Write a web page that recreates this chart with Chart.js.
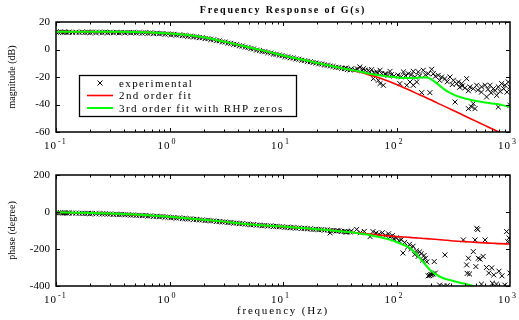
<!DOCTYPE html>
<html>
<head>
<meta charset="utf-8">
<title>Frequency Response of G(s)</title>
<script src="https://cdn.jsdelivr.net/npm/chart.js@4.4.1/dist/chart.umd.min.js"></script>
<style>
  html, body { margin: 0; padding: 0; background: #fff; }
  #wrap { position: relative; width: 519px; height: 320px; }
  .pane { position: absolute; left: 0; width: 519px; height: 160px; }
</style>
</head>
<body>
<div id="wrap">
  <div class="pane" style="top:0"><canvas id="magChart"></canvas></div>
  <div class="pane" style="top:160px"><canvas id="phaseChart"></canvas></div>
</div>
<script>
// ---- data ----------------------------------------------------------------
const seriesLabels = ['experimental', '2nd order fit', '3rd order fit with RHP zeros'];

// decade ticks of the log frequency axis and their exponents
const decadeTicks = [0.1, 1, 10, 100, 1000];
const decadeExp = ['-1', '0', '1', '2', '3'];

// frequency grid (Hz) the two fitted models are sampled on
const fitFreq = [0.1, 0.2, 0.3, 0.5, 0.7, 1, 1.5, 2, 3, 4.18,
                 5, 7, 10, 15, 20, 26, 32, 40, 47, 55,
                 65, 72, 85, 100, 115, 131, 150, 165, 184, 200,
                 230, 260, 300, 350, 400, 500, 600, 700, 805, 1000];

const fit2Mag = [13.0, 13.0, 12.9, 12.7, 12.3, 11.7, 10.4, 8.9, 5.8, 3.1,
                 1.6, -1.2, -4.3, -7.5, -9.8, -11.8, -13.3, -15.0, -16.4, -17.9,
                 -19.7, -20.9, -23.1, -25.4, -27.6, -29.7, -31.9, -33.4, -35.2, -36.6,
                 -39.0, -41.0, -43.4, -46.0, -48.3, -52.1, -55.2, -57.8, -60.2, -64.0];

const fit3Mag = [13.0, 13.0, 12.9, 12.7, 12.3, 11.7, 10.4, 8.9, 5.8, 3.1,
                 1.6, -1.2, -4.3, -7.5, -9.8, -11.8, -13.3, -14.9, -16.0, -17.2,
                 -18.3, -18.9, -19.6, -20.3, -20.7, -20.8, -20.6, -20.4, -20.4, -21.5,
                 -25.0, -28.6, -31.8, -34.2, -35.6, -37.4, -38.5, -39.3, -40.0, -41.8];

const fit2Phase = [-2, -5, -8, -14, -19, -26, -35, -42, -52, -62,
                   -66, -73, -79, -87, -93, -99, -104, -110, -114, -118,
                   -122, -125, -129, -133, -135, -137, -140, -142, -144, -146,
                   -149, -151, -155, -158, -160, -164, -167, -169, -171, -173];

const fit3Phase = [-2, -5, -8, -14, -19, -26, -35, -42, -52, -62,
                   -66, -73, -79, -87, -93, -99, -104, -110, -116, -122,
                   -131, -137, -148, -162, -178, -195, -228, -258, -292, -316,
                   -342, -358, -369, -380, -388, -402, -412, -420, -428, -440];

// measured points [Hz, dB]
const expMag = [
  [0.1, 12.7], [0.11, 12.8], [0.12, 12.6], [0.13, 12.7], [0.15, 12.6], [0.17, 12.7], [0.19, 12.6], [0.21, 12.6],
  [0.24, 12.5], [0.27, 12.6], [0.3, 12.5], [0.34, 12.5], [0.38, 12.4], [0.43, 12.4], [0.48, 12.4], [0.54, 12.3],
  [0.61, 12.2], [0.68, 12.1], [0.77, 11.9], [0.86, 11.6], [0.97, 11.3], [1.09, 11.0], [1.22, 10.6], [1.37, 10.2],
  [1.54, 9.7], [1.73, 9.2], [1.94, 8.6], [2.18, 7.9], [2.45, 7.1], [2.75, 6.3], [3.09, 5.4], [3.47, 4.5],
  [3.89, 3.5], [4.37, 2.5], [4.91, 1.5], [5.5, 0.4], [6.2, -0.7], [6.9, -1.6], [7.8, -2.6], [8.7, -3.5],
  [9.8, -4.5], [11, -5.4], [12.3, -6.3], [13.8, -7.1], [15.5, -8.1], [17.4, -8.9], [19.5, -9.8], [21.9, -10.6],
  [24.6, -11.4], [27.6, -12.3], [31, -13.1], [34.8, -13.9], [39, -14.8],
  [0.105, 12.5], [0.115, 12.5], [0.125, 12.4], [0.14, 12.4], [0.16, 12.4], [0.18, 12.4], [0.2, 12.3], [0.225, 12.3],
  [0.255, 12.3], [0.285, 12.2], [0.32, 12.2], [0.36, 12.1], [0.405, 12.1], [0.455, 12.1], [0.51, 12.0], [0.575, 11.9],
  [0.645, 11.8], [0.725, 11.6], [0.815, 11.4], [0.915, 11.1], [1.03, 10.8], [1.15, 10.5], [1.3, 10.1], [1.45, 9.6],
  [1.63, 9.1], [1.83, 8.6], [2.06, 7.9], [2.31, 7.2], [2.6, 6.4], [2.92, 5.5], [3.28, 4.6], [3.68, 3.7],
  [4.13, 2.7], [4.64, 1.7], [5.2, 0.6], [5.85, -0.4], [6.55, -1.4], [7.35, -2.3], [8.25, -3.3], [9.25, -4.2],
  [10.4, -5.2], [11.6, -6.0], [13, -6.9], [14.6, -7.8], [16.4, -8.7], [18.4, -9.5], [20.7, -10.4], [23.2, -11.2],
  [26.1, -12.0], [29.3, -12.9], [32.9, -13.7], [36.9, -14.6],
  [36, -13.5], [40, -14.2], [43, -14.8], [45, -14.0], [47.6, -12.7], [50, -15.5], [51, -13.9], [53, -15.2],
  [56.5, -15.1], [58, -16.3], [60.4, -14.6], [62.5, -21.2], [63, -17.0], [66.8, -16.3], [68, -17.2], [69.2, -22.4],
  [71.6, -15.1], [71.6, -24.8], [74, -17.5], [76.6, -26.0], [79.2, -17.6], [80, -18.0], [84, -18.9], [87.7, -15.9],
  [90, -18.3], [95, -19.3], [103, -18.6], [107, -24.8], [110, -19.8], [115, -16.3], [120, -19.0], [123, -26.0],
  [127, -17.6], [131.5, -23.6], [135, -18.5], [140.6, -15.9], [140.6, -26.0], [145, -20.0], [150.6, -23.6], [155.6, -16.3],
  [160, -19.2], [166.7, -31.4], [172, -15.1], [180, -18.4], [190.5, -17.6], [197, -31.4], [204, -14.4], [211, -17.6],
  [220, -19.5], [233, -18.8], [240, -22.5], [250, -20.0], [267, -21.2], [280, -23.5], [296, -20.0], [310, -25.5],
  [317, -22.4], [328, -38.2], [339, -24.8], [351, -23.6], [360, -27.5], [375, -24.8], [380, -26.5], [400, -28.0],
  [415, -21.2], [430, -43.0], [430, -30.0], [444, -27.2], [459, -41.8], [475, -28.5], [475, -39.4], [492, -43.0],
  [508, -26.0], [520, -29.5], [560, -31.0], [562, -27.2], [603, -26.0], [622, -34.5], [640, -29.0], [667, -26.0],
  [680, -31.5], [713, -28.5], [740, -29.8], [763, -33.3], [789, -27.2], [789, -41.8], [820, -30.5], [844, -24.8],
  [880, -28.5], [903, -26.0], [940, -31.0], [966, -23.6], [1000, -27.2], [1000, -40.6]
];

// measured points [Hz, degree]
const expPhase = [
  [0.1, -4], [0.11, -4], [0.12, -5], [0.13, -5], [0.15, -6], [0.17, -7], [0.19, -7], [0.21, -8],
  [0.24, -9], [0.27, -10], [0.3, -11], [0.34, -12], [0.38, -13], [0.43, -15], [0.48, -16], [0.54, -18],
  [0.61, -19], [0.68, -21], [0.77, -23], [0.86, -25], [0.97, -28], [1.09, -30], [1.22, -32], [1.37, -35],
  [1.54, -37], [1.73, -40], [1.94, -43], [2.18, -45], [2.45, -48], [2.75, -51], [3.09, -54], [3.47, -57],
  [3.89, -60], [4.37, -63], [4.91, -66], [5.5, -68], [6.2, -71], [6.9, -73], [7.8, -75], [8.7, -77],
  [9.8, -80], [11, -82], [12.3, -84], [13.8, -86], [15.5, -88], [17.4, -91], [19.5, -93], [21.9, -95],
  [24.6, -97], [27.6, -100], [31, -102], [34.8, -105], [39, -108],
  [0.105, -5], [0.115, -5], [0.125, -6], [0.14, -6], [0.16, -7], [0.18, -8], [0.2, -9], [0.225, -9],
  [0.255, -10], [0.285, -11], [0.32, -13], [0.36, -14], [0.405, -15], [0.455, -17], [0.51, -18], [0.575, -20],
  [0.645, -22], [0.725, -24], [0.815, -26], [0.915, -28], [1.03, -31], [1.15, -33], [1.3, -35], [1.45, -38],
  [1.63, -40], [1.83, -43], [2.06, -46], [2.31, -48], [2.6, -51], [2.92, -54], [3.28, -57], [3.68, -60],
  [4.13, -63], [4.64, -66], [5.2, -69], [5.85, -71], [6.55, -74], [7.35, -76], [8.25, -78], [9.25, -80],
  [10.4, -83], [11.6, -85], [13, -87], [14.6, -89], [16.4, -91], [18.4, -94], [20.7, -96], [23.2, -98],
  [26.1, -100], [29.3, -103], [32.9, -105], [36.9, -108],
  [26, -113], [30, -101], [36, -108], [40, -103], [44.6, -94], [48, -112], [52, -105], [58.5, -133],
  [62, -106], [66, -114], [70, -120], [75, -112], [80, -126], [85, -118], [88, -134], [92, -128],
  [95, -145], [100, -140], [105, -155], [110, -150], [114, -222], [118, -165], [125, -190], [130, -175],
  [135, -200], [140, -185], [145, -230], [150, -210], [155, -240], [160, -215], [165, -225], [170, -260],
  [175, -235], [180, -250], [185, -270], [190, -345], [195, -343], [200, -340], [205, -338], [210, -335],
  [215, -268], [220, -330], [240, -395], [260, -400], [267, -232], [280, -398], [388, -151], [415, -286],
  [420, -332], [430, -250], [440, -335], [475, -214], [492, -151], [500, -295], [509, -88], [520, -95],
  [525, -250], [545, -255], [560, -390], [580, -240], [603, -151], [620, -300], [650, -330], [690, -302],
  [700, -385], [720, -340], [760, -390], [800, -320], [850, -345], [900, -395], [933, -106], [955, -160],
  [980, -140], [1000, -330]
];

// ---- helpers ----------------------------------------------------------------
const SERIF = '"Liberation Serif", "DejaVu Serif", serif';

const toXY = (xs, ys) => xs.map((f, i) => ({ x: f, y: ys[i] }));
const pairsToXY = pairs => pairs.map(p => ({ x: p[0], y: p[1] }));

function buildDatasets(expPairs, fit2, fit3) {
  return [
    {
      label: seriesLabels[0],
      data: pairsToXY(expPairs),
      showLine: false,
      pointStyle: 'crossRot',
      pointRadius: 3.5,
      pointBorderWidth: 1,
      borderColor: '#000',
      backgroundColor: '#000',
      order: 3
    },
    {
      label: seriesLabels[1],
      data: toXY(fitFreq, fit2),
      showLine: true,
      borderColor: '#ff0000',
      borderWidth: 1.6,
      pointRadius: 0,
      cubicInterpolationMode: 'monotone',
      order: 2
    },
    {
      label: seriesLabels[2],
      data: toXY(fitFreq, fit3),
      showLine: true,
      borderColor: '#00ff00',
      borderWidth: 2,
      pointRadius: 0,
      cubicInterpolationMode: 'monotone',
      order: 1
    }
  ];
}

/**
 * MATLAB-ish frame: box, inward ticks, 10^n labels, title / xlabel / legend
 */
function framePlugin(cfg) {
  return {
    id: 'matlabFrame',
    afterDatasetsDraw(chart) {
      const { ctx, chartArea: a, scales } = chart;
      const xs = scales.x, ys = scales.y;
      ctx.save();

      // box
      ctx.strokeStyle = '#000';
      ctx.lineWidth = 1.5;
      ctx.strokeRect(a.left, a.top, a.right - a.left, a.bottom - a.top);

      // inward ticks
      ctx.lineWidth = 1;
      ctx.beginPath();
      for (let d = 0; d < decadeTicks.length - 1; d++) {
        for (let k = 1; k < 10; k++) {
          const px = Math.round(xs.getPixelForValue(k * decadeTicks[d])) + 0.5;
          const len = k === 1 ? 4 : 2.5;
          ctx.moveTo(px, a.bottom); ctx.lineTo(px, a.bottom - len);
          ctx.moveTo(px, a.top); ctx.lineTo(px, a.top + len);
        }
      }
      ys.ticks.forEach(t => {
        const py = Math.round(ys.getPixelForValue(t.value)) + 0.5;
        ctx.moveTo(a.left, py); ctx.lineTo(a.left + 4, py);
        ctx.moveTo(a.right, py); ctx.lineTo(a.right - 4, py);
      });
      ctx.stroke();

      // decade labels 10^n
      ctx.fillStyle = '#000';
      ctx.letterSpacing = '1px';
      const baseY = a.bottom + 17;
      decadeTicks.forEach((v, i) => {
        const px = xs.getPixelForValue(v);
        ctx.font = '11px ' + SERIF;
        ctx.textAlign = 'right';
        ctx.textBaseline = 'alphabetic';
        ctx.fillText('10', px + 1, baseY);
        ctx.font = '8px ' + SERIF;
        ctx.textAlign = 'left';
        ctx.fillText(decadeExp[i], px + 2, baseY - 5);
      });

      const midX = (a.left + a.right) / 2;
      if (cfg.title) {
        ctx.font = 'bold 10px ' + SERIF;
        ctx.letterSpacing = '1.8px';
        ctx.textAlign = 'center';
        ctx.fillText(cfg.title, midX, 13);
      }
      if (cfg.xTitle) {
        ctx.font = '11px ' + SERIF;
        ctx.letterSpacing = '1.8px';
        ctx.textAlign = 'center';
        ctx.fillText(cfg.xTitle, midX, a.bottom + 28);
      }
      if (cfg.legend) drawLegend(chart);
      ctx.restore();
    }
  };
}

function drawLegend(chart) {
  const { ctx, chartArea: a } = chart;
  const bx = a.left + 23, by = a.top + 53, bw = 217, bh = 41;
  ctx.fillStyle = '#fff';
  ctx.fillRect(bx, by, bw, bh);
  ctx.strokeStyle = '#000';
  ctx.lineWidth = 1.3;
  ctx.strokeRect(bx + 0.5, by + 0.5, bw, bh);

  ctx.font = '11px ' + SERIF;
  ctx.letterSpacing = '1.4px';
  ctx.textAlign = 'left';
  ctx.textBaseline = 'alphabetic';
  chart.data.datasets.forEach((ds, i) => {
    const ry = by + 8 + i * 12.5;
    if (ds.showLine === false) {
      const cx = bx + 21, r = 2.5;
      ctx.strokeStyle = '#000';
      ctx.lineWidth = 1;
      ctx.beginPath();
      ctx.moveTo(cx - r, ry - r); ctx.lineTo(cx + r, ry + r);
      ctx.moveTo(cx + r, ry - r); ctx.lineTo(cx - r, ry + r);
      ctx.stroke();
    } else {
      ctx.strokeStyle = ds.borderColor;
      ctx.lineWidth = ds.borderWidth;
      ctx.beginPath();
      ctx.moveTo(bx + 8, ry); ctx.lineTo(bx + 34, ry);
      ctx.stroke();
    }
    ctx.fillStyle = '#000';
    ctx.fillText(ds.label, bx + 40, ry + 3.5);
  });
}

function makeChart(canvasId, cfg) {
  return new Chart(document.getElementById(canvasId), {
    type: 'scatter',
    data: { datasets: buildDatasets(cfg.exp, cfg.fit2, cfg.fit3) },
    options: {
      responsive: true,
      maintainAspectRatio: false,
      animation: false,
      layout: { padding: { top: cfg.padTop, right: 9, left: 0, bottom: 0 } },
      plugins: { legend: { display: false }, tooltip: { enabled: false } },
      scales: {
        x: {
          type: 'logarithmic',
          min: 0.1,
          max: 1000,
          ticks: { display: false },
          grid: { display: false, drawTicks: false },
          border: { display: false },
          afterFit: s => { s.height = cfg.xHeight; }
        },
        y: {
          min: cfg.yMin,
          max: cfg.yMax,
          ticks: {
            stepSize: cfg.yStep,
            color: '#000',
            padding: 6,
            font: { family: SERIF, size: 11 }
          },
          grid: { display: false, drawTicks: false },
          border: { display: false },
          title: {
            display: true,
            text: cfg.yTitle,
            color: '#000',
            font: { family: SERIF, size: 10 },
            padding: { top: 6, bottom: 0 }
          },
          afterFit: s => { s.width = 56; }
        }
      }
    },
    plugins: [framePlugin(cfg)]
  });
}

makeChart('magChart', {
  exp: expMag, fit2: fit2Mag, fit3: fit3Mag,
  yMin: -60, yMax: 20, yStep: 20,
  yTitle: 'magnitude (dB)',
  padTop: 22, xHeight: 28,
  title: 'Frequency Response of G(s)',
  legend: true
});

makeChart('phaseChart', {
  exp: expPhase, fit2: fit2Phase, fit3: fit3Phase,
  yMin: -400, yMax: 200, yStep: 200,
  yTitle: 'phase (degree)',
  padTop: 15, xHeight: 34,
  xTitle: 'frequency (Hz)'
});
</script>
</body>
</html>
